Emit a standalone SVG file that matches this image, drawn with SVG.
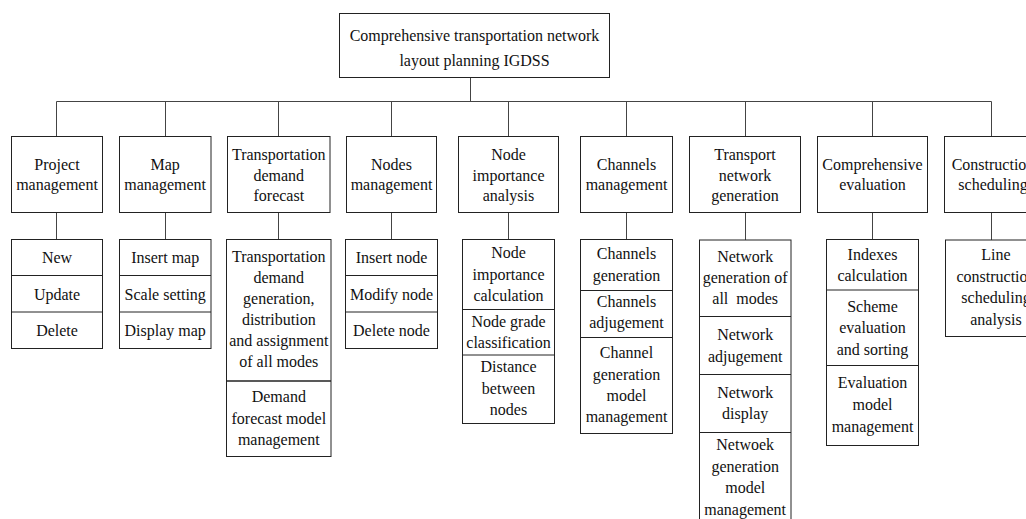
<svg xmlns="http://www.w3.org/2000/svg" width="1026" height="519" viewBox="0 0 1026 519">
<style>
.b{fill:#fff;stroke:#222;stroke-width:1}
.d{stroke:#222;stroke-width:1;fill:none}
.c{stroke:#444;stroke-width:1;fill:none}
text{font-family:"Liberation Serif","Times New Roman",serif;font-size:16px;fill:#111;text-anchor:middle}
</style>
<rect width="1026" height="519" fill="#fff"/>
<g id="connectors">
<path class="c" d="M470.5 77V101.5M56.5 101.5H991.5M56.5 101.5V136M165.5 101.5V136M278.5 101.5V136M391.5 101.5V136M508.5 101.5V136M626.5 101.5V136M745.5 101.5V136M872.5 101.5V136M991.5 101.5V136"/>
<path class="c" d="M56.5 212V239.5M165.5 212V239.5M278.5 212V239.5M391.5 212V239.5M508.5 212V239.5M626.5 212V239.5M745.5 212V240M872.5 212V239.5M991.5 212V240"/>
</g>
<g id="root">
<rect class="b" x="339.5" y="13.5" width="270" height="64"/>
<text x="474.5" y="40.5">Comprehensive transportation network</text>
<text x="474.5" y="65.5">layout planning IGDSS</text>
</g>
<g id="cat1"><rect class="b" x="11.5" y="136.5" width="91" height="76"/><text x="57" y="170">Project</text><text x="57" y="190">management</text></g>
<g id="cat2"><rect class="b" x="119.5" y="136.5" width="91.5" height="76"/><text x="165.2" y="170">Map</text><text x="165.2" y="190">management</text></g>
<g id="cat3"><rect class="b" x="227.5" y="136.5" width="102.5" height="76"/><text x="278.8" y="160">Transportation</text><text x="278.8" y="180.5">demand</text><text x="278.8" y="201">forecast</text></g>
<g id="cat4"><rect class="b" x="346.5" y="136.5" width="90" height="76"/><text x="391.5" y="170">Nodes</text><text x="391.5" y="190">management</text></g>
<g id="cat5"><rect class="b" x="458.5" y="136.5" width="100" height="76"/><text x="508.5" y="160">Node</text><text x="508.5" y="180.5">importance</text><text x="508.5" y="201">analysis</text></g>
<g id="cat6"><rect class="b" x="580.5" y="136.5" width="92" height="76"/><text x="626.5" y="170">Channels</text><text x="626.5" y="190">management</text></g>
<g id="cat7"><rect class="b" x="689.5" y="136.5" width="111" height="76"/><text x="745" y="160">Transport</text><text x="745" y="180.5">network</text><text x="745" y="201">generation</text></g>
<g id="cat8"><rect class="b" x="817.5" y="136.5" width="110" height="76"/><text x="872.5" y="170">Comprehensive</text><text x="872.5" y="190">evaluation</text></g>
<g id="cat9"><rect class="b" x="944.5" y="136.5" width="100" height="76"/><text x="993" y="170">Construction</text><text x="993" y="190">scheduling</text></g>

<g id="sub1"><rect class="b" x="11.5" y="239.5" width="91" height="109"/><path class="d" d="M11.5 275.5H102.5M11.5 312H102.5"/>
<text x="57" y="263">New</text><text x="57" y="299.5">Update</text><text x="57" y="336">Delete</text></g>
<g id="sub2"><rect class="b" x="119.5" y="239.5" width="91.5" height="109"/><path class="d" d="M119.5 275.5H211M119.5 312H211"/>
<text x="165.2" y="263">Insert map</text><text x="165.2" y="299.5">Scale setting</text><text x="165.2" y="336">Display map</text></g>
<g id="sub3"><rect class="b" x="226.5" y="239.5" width="104.5" height="217"/><path class="d" d="M226.5 381H331" style="stroke-width:1.5"/>
<text x="278.8" y="261.7">Transportation</text><text x="278.8" y="282.7">demand</text><text x="278.8" y="303.7">generation,</text><text x="278.8" y="324.7">distribution</text><text x="278.8" y="345.7">and assignment</text><text x="278.8" y="366.7">of all modes</text>
<text x="278.8" y="402">Demand</text><text x="278.8" y="423.5">forecast model</text><text x="278.8" y="445">management</text></g>
<g id="sub4"><rect class="b" x="345.5" y="239.5" width="92" height="109"/><path class="d" d="M345.5 275.5H437.5M345.5 312H437.5"/>
<text x="391.5" y="263">Insert node</text><text x="391.5" y="299.5">Modify node</text><text x="391.5" y="336">Delete node</text></g>
<g id="sub5"><rect class="b" x="462.5" y="239.5" width="92" height="184"/><path class="d" d="M462.5 309.5H554.5M462.5 355H554.5"/>
<text x="508.5" y="258.3">Node</text><text x="508.5" y="279.5">importance</text><text x="508.5" y="300.7">calculation</text>
<text x="508.5" y="326.7">Node grade</text><text x="508.5" y="348">classification</text>
<text x="508.5" y="371.7">Distance</text><text x="508.5" y="393.5">between</text><text x="508.5" y="415">nodes</text></g>
<g id="sub6"><rect class="b" x="580.5" y="239.5" width="92" height="194"/><path class="d" d="M580.5 290.5H672.5M580.5 337.5H672.5"/>
<text x="626.5" y="259.3">Channels</text><text x="626.5" y="281">generation</text>
<text x="626.5" y="306.7">Channels</text><text x="626.5" y="328.3">adjugement</text>
<text x="626.5" y="358.3">Channel</text><text x="626.5" y="379.5">generation</text><text x="626.5" y="400.5">model</text><text x="626.5" y="421.7">management</text></g>
<g id="sub7"><rect class="b" x="699.5" y="240" width="91.5" height="290"/><path class="d" d="M699.5 316.5H791M699.5 374.5H791M699.5 432.5H791"/>
<text x="745.2" y="261.7">Network</text><text x="745.2" y="282.7">generation of</text><text x="745.2" y="304" xml:space="preserve">all  modes</text>
<text x="745.2" y="340">Network</text><text x="745.2" y="361.5">adjugement</text>
<text x="745.2" y="398.3">Network</text><text x="745.2" y="419">display</text>
<text x="745.2" y="450">Netwoek</text><text x="745.2" y="471.5">generation</text><text x="745.2" y="493">model</text><text x="745.2" y="514.5">management</text></g>
<g id="sub8"><rect class="b" x="826.5" y="239.5" width="92" height="206"/><path class="d" d="M826.5 290H918.5M826.5 365.5H918.5"/>
<text x="872.5" y="260">Indexes</text><text x="872.5" y="281">calculation</text>
<text x="872.5" y="311.7">Scheme</text><text x="872.5" y="333">evaluation</text><text x="872.5" y="354.5">and sorting</text>
<text x="872.5" y="388.3">Evaluation</text><text x="872.5" y="410">model</text><text x="872.5" y="431.5">management</text></g>
<g id="sub9"><rect class="b" x="945.5" y="240" width="104" height="96.5"/>
<text x="996" y="260">Line</text><text x="996" y="281.5">construction</text><text x="996" y="303">scheduling</text><text x="996" y="324.5">analysis</text></g>
</svg>
